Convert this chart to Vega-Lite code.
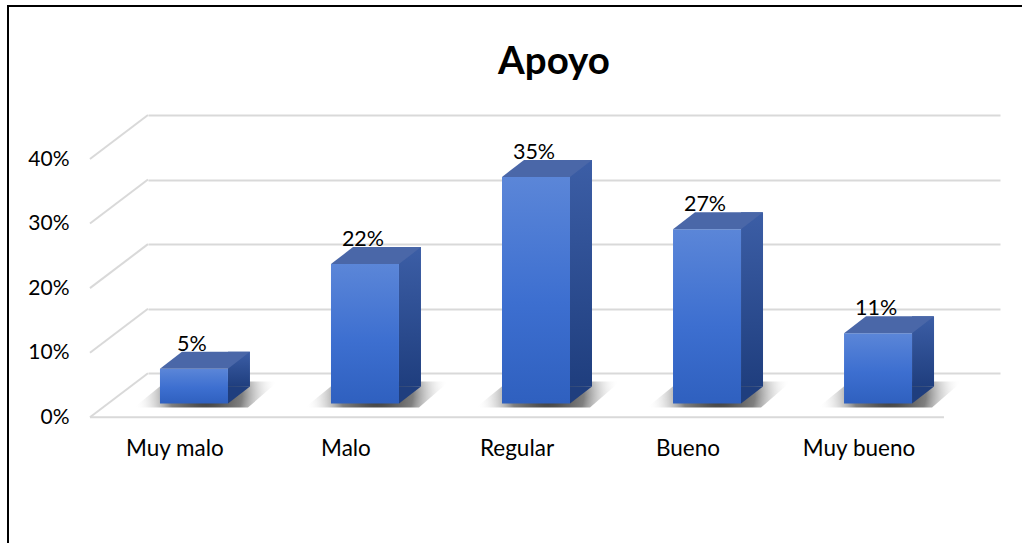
{
  "$schema": "https://vega.github.io/schema/vega-lite/v6.json",
  "width": 1024,
  "height": 547,
  "autosize": {"type": "none"},
  "padding": {"left": 8, "top": 6, "right": -10, "bottom": -10},
  "background": "white",
  "config": {
    "view": {"stroke": "black", "strokeWidth": 2, "fill": "white"},
    "font": "Lato"
  },
  "title": {
    "text": "Apoyo",
    "font": "Lato",
    "fontSize": 38.5,
    "fontWeight": "bold",
    "color": "black",
    "anchor": "middle",
    "frame": "group",
    "baseline": "alphabetic",
    "offset": -69,
    "dx": 34,
    "dy": 37
  },
  "data": {
    "values": [
      {"nivel": "Muy malo", "pct": 0.054},
      {"nivel": "Malo", "pct": 0.216},
      {"nivel": "Regular", "pct": 0.351},
      {"nivel": "Bueno", "pct": 0.27},
      {"nivel": "Muy bueno", "pct": 0.109}
    ]
  },
  "encoding": {
    "x": {
      "field": "nivel",
      "type": "nominal",
      "sort": null,
      "scale": {"range": [140, 992], "paddingInner": 0.5, "paddingOuter": 0.241, "align": 0.039},
      "axis": {
        "title": null,
        "domain": false,
        "ticks": false,
        "labelFont": "Lato",
        "labelFontSize": 22.5,
        "labelColor": "black",
        "labelPadding": 2,
        "labelAngle": 0,
        "offset": -118,
        "labelOffset": -19
      }
    },
    "y": {
      "field": "pct",
      "type": "quantitative",
      "scale": {"domain": [0, 0.4], "range": [367.3, 109], "nice": false, "zero": true},
      "axis": {
        "title": null,
        "values": [0, 0.1, 0.2, 0.3, 0.4],
        "format": ".0%",
        "domain": false,
        "ticks": false,
        "labelFont": "Lato",
        "labelFontSize": 21,
        "labelColor": "black",
        "labelPadding": 5,
        "offset": -66,
        "labelOffset": 44,
        "grid": true,
        "gridColor": "#d9d9d9",
        "gridWidth": 2
      }
    }
  },
  "layer": [
    {
      "data": {"values": [{"v": 0}, {"v": 0.1}, {"v": 0.2}, {"v": 0.3}, {"v": 0.4}]},
      "mark": {"type": "point", "shape": "M-46,0L-104,44", "size": 4, "filled": false, "stroke": "#d9d9d9", "strokeWidth": 2, "opacity": 1},
      "encoding": {
        "x": {"datum": "Muy malo"},
        "y": {"field": "v", "type": "quantitative"}
      }
    },
    {
      "data": {"values": [{"v": 0}]},
      "mark": {"type": "point", "shape": "M-104,44L750,44", "size": 4, "filled": false, "stroke": "#d9d9d9", "strokeWidth": 2, "opacity": 1},
      "encoding": {
        "x": {"datum": "Muy malo"},
        "y": {"field": "v", "type": "quantitative"}
      }
    },
    {
      "mark": {
        "type": "point",
        "shape": "M-60,4L54,4L84,-22L-28,-22Z",
        "size": 4,
        "filled": true,
        "opacity": 1,
        "strokeWidth": 0,
        "yOffset": 30.3,
        "fill": {
          "gradient": "radial",
          "x1": 0.5, "y1": 0.5, "r1": 0,
          "x2": 0.5, "y2": 0.5, "r2": 0.5,
          "stops": [
            {"offset": 0, "color": "#333333"},
            {"offset": 0.5, "color": "#808080"},
            {"offset": 1, "color": "rgba(255,255,255,0)"}
          ]
        }
      },
      "encoding": {"y": {"datum": 0}}
    },
    {
      "mark": {
        "type": "bar",
        "width": 22,
        "xOffset": 45,
        "yOffset": 13.3,
        "y2Offset": 13.3,
        "fill": {
          "gradient": "linear",
          "x1": 0, "y1": 0, "x2": 0, "y2": 1,
          "stops": [
            {"offset": 0, "color": "#3c5ea6"},
            {"offset": 1, "color": "#1f3e7e"}
          ]
        }
      }
    },
    {
      "mark": {"type": "point", "shape": "M34,-17L34,0L56,-17Z", "size": 4, "filled": true, "opacity": 1, "strokeWidth": 0, "fill": "#1f3e7e", "yOffset": 30.3},
      "encoding": {"y": {"datum": 0}}
    },
    {
      "mark": {
        "type": "bar",
        "width": 68,
        "yOffset": 30.3,
        "y2Offset": 30.3,
        "fill": {
          "gradient": "linear",
          "x1": 0, "y1": 0, "x2": 0, "y2": 1,
          "stops": [
            {"offset": 0, "color": "#5b86d8"},
            {"offset": 0.55, "color": "#3d6fd0"},
            {"offset": 1, "color": "#2f60bf"}
          ]
        }
      }
    },
    {
      "mark": {"type": "point", "shape": "M-34,0L34,0L56,-17L-12,-17Z", "size": 4, "filled": true, "opacity": 1, "strokeWidth": 0, "fill": "#4a67a8", "yOffset": 30.3}
    },
    {
      "mark": {"type": "text", "font": "Lato", "fontSize": 21.5, "color": "black", "baseline": "alphabetic", "align": "center", "yOffset": 12.3, "dx": -2},
      "encoding": {"text": {"field": "pct", "type": "quantitative", "format": ".0%"}}
    }
  ]
}
